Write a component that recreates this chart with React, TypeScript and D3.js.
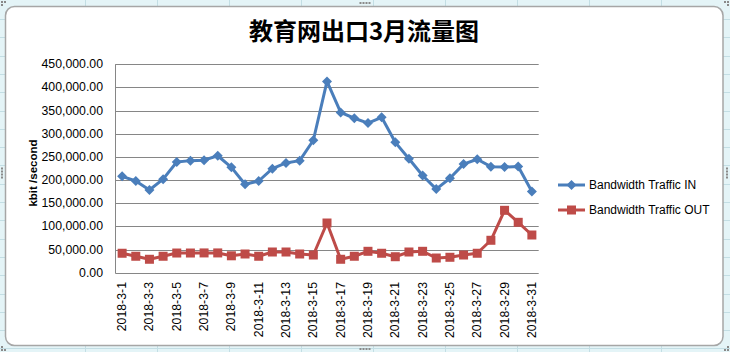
import React from "react";
import * as d3 from "d3";

const dates: string[] = Array.from({ length: 31 }, (_, i) => `2018-3-${i + 1}`);
const trafficIn: number[] = [
  208000, 198000, 178500, 202000, 239000, 242000, 243000, 252500, 227500, 191000,
  198000, 224500, 237000, 242000, 286000, 413000, 346000, 333500, 323000, 335500,
  281500, 246000, 210000, 180500, 204000, 234500, 245000, 229000, 228000, 229500,
  175500,
];
const trafficOut: number[] = [
  42000, 35500, 29000, 35500, 42500, 42500, 42700, 42700, 36500, 40400,
  35500, 44700, 44700, 40400, 38200, 107300, 29000, 35500, 46200, 42000,
  34500, 44700, 46200, 31700, 33300, 38200, 42000, 70000, 134700, 108800,
  81400,
];
const yTicks: number[] = [0, 50000, 100000, 150000, 200000, 250000, 300000, 350000, 400000, 450000];
const seriesNames: string[] = ["Bandwidth Traffic IN", "Bandwidth Traffic OUT"];
const title = "教育网出口3月流量图";
const yTitle = "kbit /second";

const W = 730;
const H = 352;
const plot = { left: 115.3, right: 538.7, top: 64.3, bottom: 272.7 };
const BLUE = "#4A7EBB";
const RED = "#BE4B48";
const FONT = "'Liberation Sans', Arial, sans-serif";

export default function App() {
  const x = d3.scalePoint<string>().domain(dates).range([plot.left, plot.right]).padding(0.5);
  const y = d3.scaleLinear().domain([0, 450000]).range([plot.bottom, plot.top]);
  const fmt = d3.format(",.2f");
  const lineGen = d3
    .line<number>()
    .x((_, i) => x(dates[i]) as number)
    .y((d) => y(d));

  const colLines = [85, 157, 229, 301, 373, 445, 517, 589, 661];
  const rowLines = d3.range(0, 20).map((i) => 19 + i * 18.3);

  const diamond = (cx: number, cy: number, r: number) =>
    `M${cx},${cy - r}L${cx + r},${cy}L${cx},${cy + r}L${cx - r},${cy}Z`;

  const dots = (cx: number, cy: number, horizontal: boolean) =>
    [-4.5, -1.5, 1.5, 4.5].map((o, i) => (
      <rect
        key={i}
        x={(horizontal ? cx + o : cx) - 1}
        y={(horizontal ? cy : cy + o) - 1}
        width={2}
        height={2}
        fill="#8a8a8a"
      />
    ));

  return (
    <svg width={W} height={H} style={{ position: "absolute", left: 0, top: 0, display: "block" }}>
      {/* spreadsheet background */}
      <rect x={0} y={0} width={W} height={H} fill="#E4F4F7" />
      {colLines.map((cx) => (
        <line key={"c" + cx} x1={cx + 0.5} x2={cx + 0.5} y1={0} y2={H} stroke="#C3DEE4" />
      ))}
      {rowLines.map((ry, i) => (
        <line key={"r" + i} x1={0} x2={W} y1={Math.round(ry) + 0.5} y2={Math.round(ry) + 0.5} stroke="#C3DEE4" />
      ))}
      {/* chart frame */}
      <rect x={5.5} y={6.5} width={717.5} height={339} rx={9} ry={9} fill="#FFFFFF" stroke="#A6A6A6" strokeWidth={1.5} />
      {dots(365, 3, true)}
      {dots(365, 349, true)}
      {dots(2, 173, false)}
      {dots(727, 173, false)}
      <rect x={1} y={1} width={2} height={2} fill="#8a8a8a" />
      <rect x={4} y={1} width={2} height={2} fill="#8a8a8a" />
      <rect x={1} y={4} width={2} height={2} fill="#8a8a8a" />
      <rect x={724} y={1} width={2} height={2} fill="#8a8a8a" />
      <rect x={727} y={1} width={2} height={2} fill="#8a8a8a" />
      <rect x={727} y={4} width={2} height={2} fill="#8a8a8a" />
      <rect x={1} y={346} width={2} height={2} fill="#8a8a8a" />
      <rect x={4} y={349} width={2} height={2} fill="#8a8a8a" />
      <rect x={1} y={349} width={2} height={2} fill="#8a8a8a" />
      <rect x={727} y={346} width={2} height={2} fill="#8a8a8a" />
      <rect x={724} y={349} width={2} height={2} fill="#8a8a8a" />
      <rect x={727} y={349} width={2} height={2} fill="#8a8a8a" />

      {/* title */}
      <text
        x={364}
        y={40}
        textAnchor="middle"
        fontFamily="'Noto Sans CJK SC', sans-serif"
        fontWeight="bold"
        fontSize={24}
        fill="#000"
      >
        {title}
      </text>

      {/* grid */}
      {yTicks.map((t) => (
        <line
          key={"g" + t}
          x1={plot.left}
          x2={plot.right}
          y1={Math.round(y(t)) + 0.5}
          y2={Math.round(y(t)) + 0.5}
          stroke="#868686"
          strokeWidth={1}
        />
      ))}
      <line
        x1={Math.round(plot.left) + 0.5}
        x2={Math.round(plot.left) + 0.5}
        y1={plot.top}
        y2={plot.bottom + 0.5}
        stroke="#868686"
      />
      {/* y tick labels */}
      {yTicks.map((t) => (
        <text key={"yt" + t} x={103} y={y(t) + 4} textAnchor="end" fontFamily={FONT} fontSize={12.3} fill="#000">
          {fmt(t)}
        </text>
      ))}
      <text
        transform={`translate(37,173) rotate(-90)`}
        textAnchor="middle"
        fontFamily={FONT}
        fontWeight="bold"
        fontSize={11.5}
        fill="#000"
      >
        {yTitle}
      </text>
      {/* x tick labels */}
      {dates.map((d, i) =>
        i % 2 === 0 ? (
          <text
            key={"xt" + d}
            transform={`translate(${(x(d) as number) + 4},282) rotate(-90)`}
            textAnchor="end"
            fontFamily={FONT}
            fontSize={12.3}
            fill="#000"
          >
            {d}
          </text>
        ) : null
      )}

      {/* series */}
      <path d={lineGen(trafficIn) || ""} fill="none" stroke={BLUE} strokeWidth={3} strokeLinejoin="round" />
      {trafficIn.map((v, i) => (
        <path key={"mi" + i} d={diamond(x(dates[i]) as number, y(v), 5)} fill={BLUE} />
      ))}
      <path d={lineGen(trafficOut) || ""} fill="none" stroke={RED} strokeWidth={3} strokeLinejoin="round" />
      {trafficOut.map((v, i) => (
        <rect key={"mo" + i} x={(x(dates[i]) as number) - 4.5} y={y(v) - 4.5} width={9} height={9} fill={RED} />
      ))}

      {/* legend */}
      <line x1={558} x2={585} y1={185} y2={185} stroke={BLUE} strokeWidth={3} />
      <path d={diamond(571.5, 185, 5)} fill={BLUE} />
      <text x={589} y={189} fontFamily={FONT} fontSize={12} fill="#000">
        {seriesNames[0]}
      </text>
      <line x1={558} x2={585} y1={210} y2={210} stroke={RED} strokeWidth={3} />
      <rect x={567} y={205.5} width={9} height={9} fill={RED} />
      <text x={589} y={214} fontFamily={FONT} fontSize={12} fill="#000">
        {seriesNames[1]}
      </text>
    </svg>
  );
}
